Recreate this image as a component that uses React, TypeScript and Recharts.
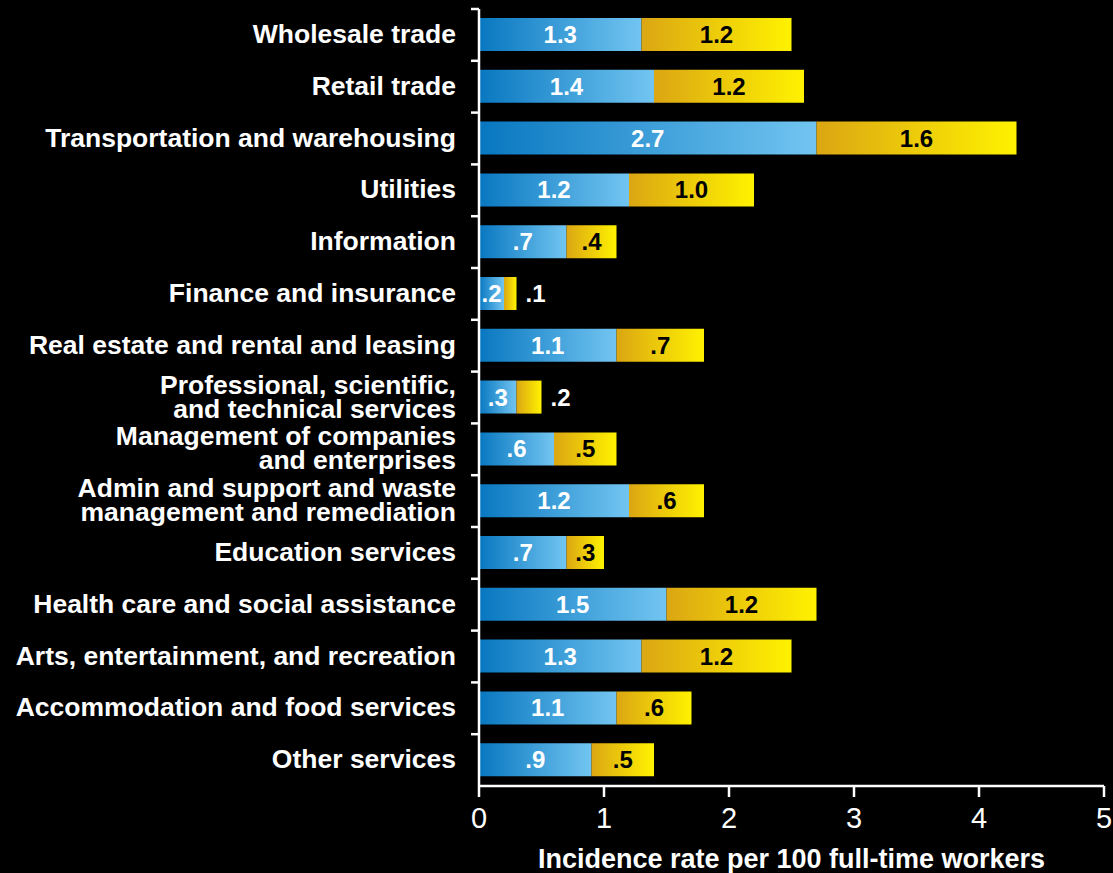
import React from "react";
import { BarChart, Bar, XAxis, YAxis, LabelList } from "recharts";

const categories = [
  "Wholesale trade",
  "Retail trade",
  "Transportation and warehousing",
  "Utilities",
  "Information",
  "Finance and insurance",
  "Real estate and rental and leasing",
  "Professional, scientific,\nand technical services",
  "Management of companies\nand enterprises",
  "Admin and support and waste\nmanagement and remediation",
  "Education services",
  "Health care and social assistance",
  "Arts, entertainment, and recreation",
  "Accommodation and food services",
  "Other services",
];
const firstValues = [1.3, 1.4, 2.7, 1.2, 0.7, 0.2, 1.1, 0.3, 0.6, 1.2, 0.7, 1.5, 1.3, 1.1, 0.9];
const secondValues = [1.2, 1.2, 1.6, 1.0, 0.4, 0.1, 0.7, 0.2, 0.5, 0.6, 0.3, 1.2, 1.2, 0.6, 0.5];
const xTicks = [0, 1, 2, 3, 4, 5];
const axisTitle = "Incidence rate per 100 full-time workers";

const data = categories.map((c, i) => ({ name: c, first: firstValues[i], second: secondValues[i] }));

const W = 1113;
const H = 873;
const M = { top: 9, right: 9, left: 0, bottom: 0 };
const X_AXIS_H = 87;
const BAND = (H - M.top - M.bottom - X_AXIS_H) / categories.length;

const fmt = (v: number) => (v >= 1 ? v.toFixed(1) : v.toFixed(1).replace(/^0/, ""));

const labelFont = "'Liberation Sans', Arial, sans-serif";
const narrowFont = "'Liberation Sans Narrow', 'Arial Narrow', 'Liberation Sans', sans-serif";

const YTick = (props: any) => {
  const { x, y, payload } = props;
  const lines = String(payload.value).split("\n");
  const lh = 24;
  const start = y - ((lines.length - 1) * lh) / 2 - 1;
  return (
    <g>
      <line x1={x - 8} x2={x} y1={y - BAND / 2} y2={y - BAND / 2} stroke="#fff" strokeWidth={2.5} />
      <text
        x={x - 23}
        y={start}
        textAnchor="end"
        fill="#fff"
        fontFamily={labelFont}
        fontWeight="bold"
        fontSize={26.5}
        dominantBaseline="central"
      >
        {lines.map((l, i) => (
          <tspan key={i} x={x - 23} y={start + i * lh} dominantBaseline="central">
            {l}
          </tspan>
        ))}
      </text>
    </g>
  );
};

const BlueLabel = (props: any) => {
  const { x, y, width, height, value } = props;
  return (
    <text
      x={x + width / 2}
      y={y + height / 2}
      textAnchor="middle"
      dominantBaseline="central"
      fill="#fff"
      fontFamily={labelFont}
      fontWeight="bold"
      fontSize={24}
    >
      {fmt(value)}
    </text>
  );
};

const GoldLabel = (props: any) => {
  const { x, y, width, height, value } = props;
  const outside = value <= 0.2;
  return (
    <text
      x={outside ? x + width + 9 : x + width / 2}
      y={y + height / 2}
      textAnchor={outside ? "start" : "middle"}
      dominantBaseline="central"
      fill={outside ? "#fff" : "#000"}
      fontFamily={labelFont}
      fontWeight="bold"
      fontSize={24}
    >
      {fmt(value)}
    </text>
  );
};

export default function App() {
  return (
    <div style={{ position: "absolute", left: 0, top: 0, width: W, height: H, background: "#000" }}>
      <BarChart width={W} height={H} data={data} layout="vertical" margin={M} barCategoryGap={0}>
        <defs>
          <linearGradient id="blueGrad" x1="0" y1="0" x2="1" y2="0">
            <stop offset="0%" stopColor="#0877c0" />
            <stop offset="100%" stopColor="#72c5f1" />
          </linearGradient>
          <linearGradient id="goldGrad" x1="0" y1="0" x2="1" y2="0">
            <stop offset="0%" stopColor="#dba613" />
            <stop offset="100%" stopColor="#fff200" />
          </linearGradient>
        </defs>
        <XAxis
          type="number"
          domain={[0, 5]}
          ticks={xTicks}
          height={X_AXIS_H}
          stroke="#fff"
          strokeWidth={2.5}
          tickSize={11}
          tickMargin={10}
          tick={{ fill: "#fff", fontSize: 29, fontFamily: narrowFont }}
          label={{
            value: axisTitle,
            position: "insideBottom",
            offset: 5,
            fill: "#fff",
            fontSize: 27,
            fontWeight: "bold",
            fontFamily: narrowFont,
          }}
        />
        <YAxis
          type="category"
          dataKey="name"
          width={479}
          stroke="#fff"
          strokeWidth={2.5}
          tickLine={false}
          tickSize={0}
          tickMargin={0}
          interval={0}
          tick={<YTick />}
        />
        <Bar dataKey="first" stackId="a" fill="url(#blueGrad)" barSize={33} isAnimationActive={false}>
          <LabelList dataKey="first" content={<BlueLabel />} />
        </Bar>
        <Bar dataKey="second" stackId="a" fill="url(#goldGrad)" barSize={33} isAnimationActive={false}>
          <LabelList dataKey="second" content={<GoldLabel />} />
        </Bar>
      </BarChart>
    </div>
  );
}
